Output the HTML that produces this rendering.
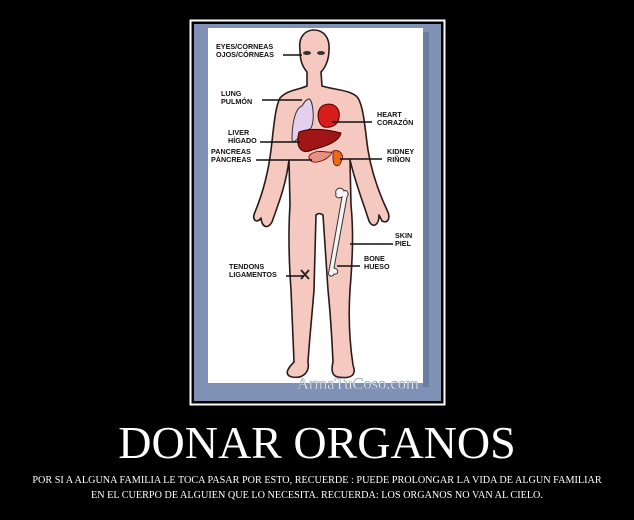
<!DOCTYPE html>
<html><head><meta charset="utf-8"><style>
html,body{margin:0;padding:0;background:#000;width:634px;height:520px;overflow:hidden;position:relative}
.t{position:absolute;left:0;width:634px;text-align:center;color:#fff;font-family:"Liberation Serif",serif;white-space:nowrap}
</style></head><body>
<svg width="634" height="520" style="position:absolute;left:0;top:0" font-family="Liberation Sans, sans-serif">
<rect x="190.5" y="20.5" width="254" height="384" fill="none" stroke="#fff" stroke-width="2"/>
<rect x="194" y="24" width="247" height="377" fill="#7f92b6"/>
<rect x="208" y="28" width="215" height="355" fill="#fff"/>
<rect x="423" y="32" width="6" height="355" fill="#5d6f94" opacity="0.6"/>
<g fill="#f5c9c0" stroke="#2a1a1a" stroke-width="1.6" stroke-linejoin="round">
<path d="M300,50 C298,36 306,30 314,30 C323,30 330,37 329,50 C329,60 325,68 321,72 L322,86 C335,90 352,90 358,98 C364,108 365,130 368,150 C372,175 380,195 387,210 C391,218 388,224 382,221 L379,215 C379,225 373,229 369,221 C364,205 356,185 350,160 L351,205 C354,235 352,265 350,290 C348,320 350,345 353,365 C357,376 350,379 338,377 C332,376 331,370 333,362 C332,340 330,310 328,290 L323,215 C320,213 318,213 316,215 L314,290 C312,315 309,345 308,362 C310,372 303,379 292,377 C284,375 287,369 294,362 C293,340 292,315 291,290 C289,262 288,235 290,205 L289,160 C286,185 278,205 272,222 C268,229 262,228 261,218 C257,224 251,220 255,212 C262,195 268,175 271,150 C274,125 275,108 280,98 C287,90 298,90 307,86 L307,72 C302,66 300,60 300,50 Z"/>
</g>
<ellipse cx="307" cy="53" rx="4" ry="2" fill="#333"/><ellipse cx="321" cy="53" rx="4" ry="2" fill="#333"/>
<path d="M302,106 C295,108 292,125 292,138 C292,148 298,136 311,128 C315,120 313,100 309,99 C306,99 304,103 302,106 Z" fill="#e4d0ec" stroke="#333" stroke-width="1"/>
<path d="M322,106 C331,101 341,106 339,118 C338,126 330,128 324,127 C317,124 316,111 322,106 Z" fill="#d81c1c" stroke="#4a0000" stroke-width="1"/>
<path d="M299,132 C312,127 330,130 341,133 C339,142 326,146 312,150 C301,155 295,147 299,132 Z" fill="#a01515" stroke="#400" stroke-width="1"/>
<path d="M311,154 C318,149 326,153 332,152 C330,158 320,163 313,162 C308,160 308,156 311,154 Z" fill="#e8907f" stroke="#600" stroke-width="0.8"/>
<path d="M333,151 C340,149 345,155 341,162 C339,167 334,168 333,160 Z" fill="#e86b12" stroke="#600" stroke-width="0.8"/>
<g stroke="#333" stroke-width="1" fill="#f4f4f4">
<path d="M336,194 C334,188 342,186 344,191 C346,189 350,193 347,197 L334,268 C339,269 339,275 334,274 C332,278 327,276 329,271 L342,197 C338,199 335,197 336,194 Z"/>
</g>
<path d="M301,270 L309,279 M309,270 L301,279" stroke="#222" stroke-width="1.8"/>
<g stroke="#111" stroke-width="1.5">
<line x1="283" y1="55" x2="302" y2="55"/>
<line x1="262" y1="100" x2="302" y2="100"/>
<line x1="260" y1="142" x2="300" y2="142"/>
<line x1="256" y1="160" x2="312" y2="160"/>
<line x1="332" y1="122" x2="372" y2="122"/>
<line x1="340" y1="159" x2="382" y2="159"/>
<line x1="350" y1="244" x2="393" y2="244"/>
<line x1="337" y1="266" x2="360" y2="266"/>
<line x1="286" y1="276" x2="303" y2="276"/>
</g>
<g font-size="7.2" font-weight="bold" fill="#111">
<text x="216" y="49">EYES/CORNEAS</text><text x="216" y="57">OJOS/CÓRNEAS</text>
<text x="221" y="96">LUNG</text><text x="221" y="104">PULMÓN</text>
<text x="228" y="135">LIVER</text><text x="228" y="143">HÍGADO</text>
<text x="211" y="154">PANCREAS</text><text x="211" y="162">PÁNCREAS</text>
<text x="377" y="117">HEART</text><text x="377" y="125">CORAZÓN</text>
<text x="387" y="154">KIDNEY</text><text x="387" y="162">RIÑON</text>
<text x="395" y="238">SKIN</text><text x="395" y="246">PIEL</text>
<text x="364" y="261">BONE</text><text x="364" y="269">HUESO</text>
<text x="229" y="269">TENDONS</text><text x="229" y="277">LIGAMENTOS</text>
</g>
<text x="297" y="389" font-family="Liberation Serif, serif" font-size="16.5" fill="#e8ecf4" stroke="#6a7a99" stroke-width="0.3">ArmaTuCoso.com</text>
</svg>
<div class="t" style="top:418px;font-size:46px;line-height:50px">DONAR ORGANOS</div>
<div class="t" style="top:473px;font-size:10.2px;line-height:15px">POR SI A ALGUNA FAMILIA LE TOCA PASAR POR ESTO, RECUERDE : PUEDE PROLONGAR LA VIDA DE ALGUN FAMILIAR<br>EN EL CUERPO DE ALGUIEN QUE LO NECESITA. RECUERDA: LOS ORGANOS NO VAN AL CIELO.</div>
</body></html>
